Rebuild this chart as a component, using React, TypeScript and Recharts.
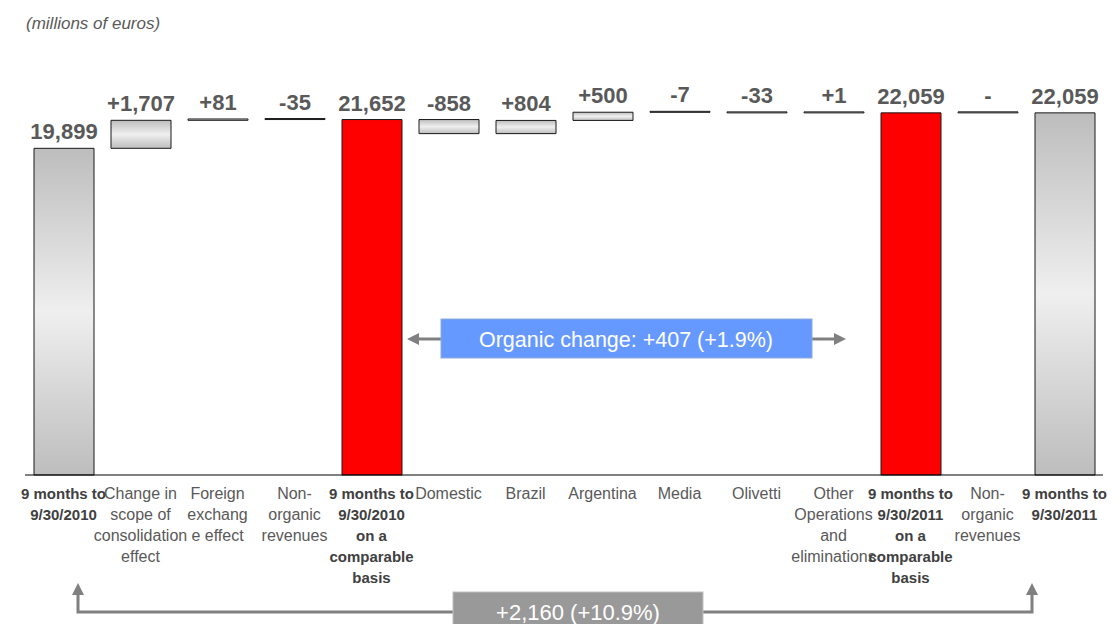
import React from "react";
import { Bar, BarChart, Cell, LabelList, XAxis, YAxis } from "recharts";

const CATEGORIES = [
  ["9 months to", "9/30/2010"],
  ["Change in", "scope of", "consolidation", "effect"],
  ["Foreign", "exchang", "e effect"],
  ["Non-", "organic", "revenues"],
  ["9 months to", "9/30/2010", "on a", "comparable", "basis"],
  ["Domestic"],
  ["Brazil"],
  ["Argentina"],
  ["Media"],
  ["Olivetti"],
  ["Other", "Operations", "and", "eliminations"],
  ["9 months to", "9/30/2011", "on a", "comparable", "basis"],
  ["Non-", "organic", "revenues"],
  ["9 months to", "9/30/2011"],
];

const VALUES = [19899, 1707, 81, -35, 21652, -858, 804, 500, -7, -33, 1, 22059, 0, 22059];

const IS_TOTAL = [true, false, false, false, true, false, false, false, false, false, false, true, false, true];

const COMPARABLE = [false, false, false, false, true, false, false, false, false, false, false, true, false, false];

const ORGANIC_LABEL = "Organic change: +407 (+1.9%)";
const TOTAL_LABEL = "+2,160 (+10.9%)";

const FONT = "'Liberation Sans', Arial, sans-serif";

type Row = {
  name: string;
  range: [number, number];
  text: string;
  total: boolean;
  comparable: boolean;
};

let running = 0;
const rows: Row[] = VALUES.map((v, i) => {
  let range: [number, number];
  let text: string;
  if (IS_TOTAL[i]) {
    running = v;
    range = [0, v];
    text = v.toLocaleString("en-US");
  } else {
    const start = running;
    running += v;
    range = [Math.min(start, running), Math.max(start, running)];
    text = v === 0 ? "-" : (v > 0 ? "+" : "-") + Math.abs(v).toLocaleString("en-US");
  }
  return { name: String(i), range, text, total: IS_TOTAL[i], comparable: COMPARABLE[i] };
});

const Tick = (props: any) => {
  const { x, y, payload } = props;
  const i = Number(payload.value);
  const lines = CATEGORIES[i];
  const bold = IS_TOTAL[i];
  return (
    <g>
      {lines.map((l, k) => (
        <text
          key={k}
          x={x}
          y={y + 16 + k * 21}
          textAnchor="middle"
          fontFamily={FONT}
          fontSize={bold ? 15 : 16}
          fontWeight={bold ? "bold" : "normal"}
          fill={bold ? "#404040" : "#595959"}
        >
          {l}
        </text>
      ))}
    </g>
  );
};

const ValueLabel = (props: any) => {
  const { x, y, width, height, index } = props;
  const top = Math.min(y, y + height);
  return (
    <text
      x={x + width / 2}
      y={top - 9}
      textAnchor="middle"
      fontFamily={FONT}
      fontSize={22}
      fontWeight="bold"
      fill="#595959"
    >
      {rows[index].text}
    </text>
  );
};

export default function App() {
  return (
    <div style={{ position: "absolute", left: 0, top: 0, width: 1117, height: 624, background: "#fff", overflow: "hidden" }}>
      <div
        style={{
          position: "absolute",
          left: 26,
          top: 14,
          fontFamily: FONT,
          fontStyle: "italic",
          fontSize: 17,
          color: "#595959",
        }}
      >
        (millions of euros)
      </div>
      <BarChart
        width={1117}
        height={624}
        data={rows}
        margin={{ top: 81, right: 14, bottom: 49, left: 25 }}
        barSize={60}
      >
        <defs>
          <linearGradient id="grayGrad" x1="0" y1="0" x2="0" y2="1">
            <stop offset="0%" stopColor="#bdbdbd" />
            <stop offset="50%" stopColor="#efefef" />
            <stop offset="100%" stopColor="#bdbdbd" />
          </linearGradient>
        </defs>
        <XAxis
          dataKey="name"
          interval={0}
          height={100}
          tickLine={false}
          axisLine={{ stroke: "#000", strokeWidth: 1 }}
          tick={<Tick />}
        />
        <YAxis hide domain={[0, 24000]} />
        <Bar dataKey="range" isAnimationActive={false} minPointSize={1} stroke="#1a1a1a" strokeWidth={1}>
          {rows.map((r, i) => (
            <Cell key={`c-${i}`} fill={r.comparable ? "#ff0000" : "url(#grayGrad)"} />
          ))}
          <LabelList dataKey="text" content={<ValueLabel />} />
        </Bar>
      </BarChart>
      <svg width={1117} height={624} style={{ position: "absolute", left: 0, top: 0, pointerEvents: "none" }}>
        <defs>
          <marker id="arr" viewBox="0 0 10 10" refX="5" refY="5" markerWidth="4" markerHeight="4" orient="auto-start-reverse">
            <path d="M0,0L10,5L0,10z" fill="#808080" />
          </marker>
        </defs>
        <line x1={441} y1={339} x2={413} y2={339} stroke="#808080" strokeWidth={3} markerEnd="url(#arr)" />
        <line x1={812} y1={339} x2={840} y2={339} stroke="#808080" strokeWidth={3} markerEnd="url(#arr)" />
        <rect x={441} y={319} width={371} height={39} fill="#6699ff" stroke="#8ea9db" strokeWidth={1} />
        <text x={626} y={347} textAnchor="middle" fontFamily={FONT} fontSize={21.5} fill="#fff">
          {ORGANIC_LABEL}
        </text>
        <path d="M78,589 L78,612 L1032,612 L1032,589" fill="none" stroke="#808080" strokeWidth={3} markerStart="url(#arr)" markerEnd="url(#arr)" />
        <rect x={453} y={592} width={250} height={40} fill="#999999" stroke="#bfbfbf" strokeWidth={1} />
        <text x={578} y={620} textAnchor="middle" fontFamily={FONT} fontSize={22} fill="#fff">
          {TOTAL_LABEL}
        </text>
      </svg>
    </div>
  );
}
